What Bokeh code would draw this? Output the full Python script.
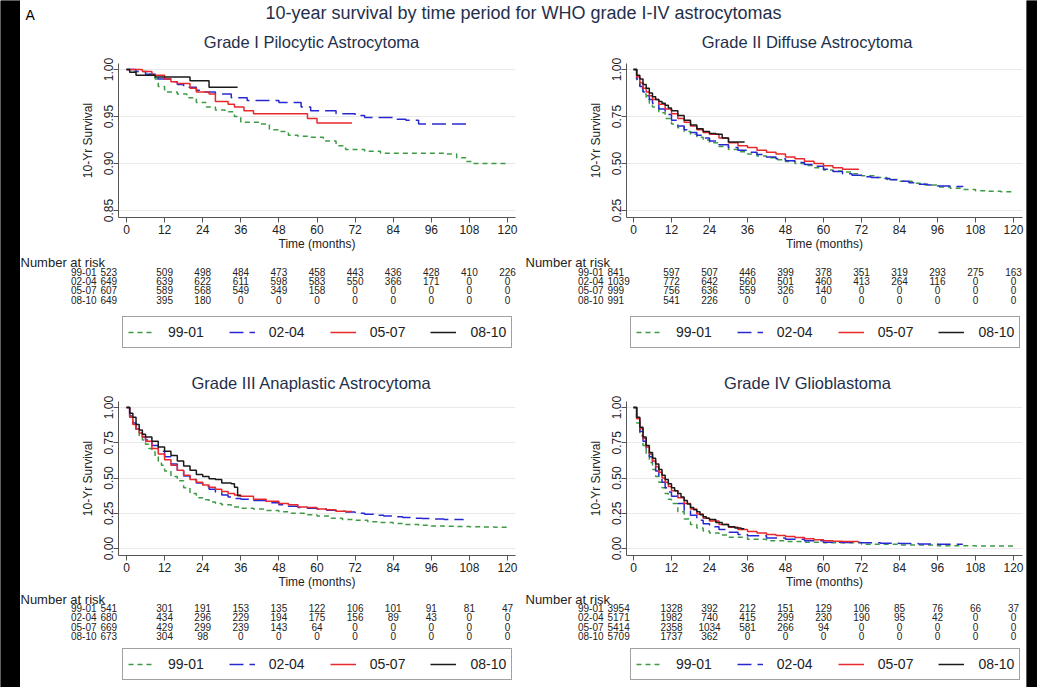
from bokeh.plotting import figure
from bokeh.models import Range1d, FixedTicker, Legend, LegendItem, PrintfTickFormatter
from bokeh.layouts import row, column
from bokeh.embed import file_html
from bokeh.resources import INLINE
from bokeh.core.properties import value

FONT = "Liberation Sans"

# ---------------- data ----------------
main_title = "10-year survival by time period for WHO grade I-IV astrocytomas"
panel_label = "A"
periods = ["99-01", "02-04", "05-07", "08-10"]
x_ticks = [0, 12, 24, 36, 48, 60, 72, 84, 96, 108, 120]
risk_times = [0, 12, 24, 36, 48, 60, 72, 84, 96, 108, 120]
x_label = "Time (months)"
y_label = "10-Yr Survival"
risk_title = "Number at risk"

grade_titles = ["Grade I Pilocytic Astrocytoma", "Grade II Diffuse Astrocytoma",
                "Grade III Anaplastic Astrocytoma", "Grade IV Glioblastoma"]
y_ticks_g1 = [0.85, 0.90, 0.95, 1.00]
y_ticks_g2 = [0.25, 0.50, 0.75, 1.00]
y_ticks_g3 = [0.00, 0.25, 0.50, 0.75, 1.00]
y_ticks_g4 = [0.00, 0.25, 0.50, 0.75, 1.00]

# Grade I
g1_t_9901 = [0, 2, 7, 9, 10, 12, 16, 19, 22, 25, 28, 31, 34, 36, 42, 45, 48, 51, 54, 58, 62, 66, 69, 75, 80, 100, 104, 107, 109, 120]
g1_s_9901 = [1.0, .998, .995, .99, .982, .976, .974, .970, .965, .960, .957, .955, .950, .944, .942, .936, .934, .930, .929, .928, .924, .919, .915, .913, .911, .910, .906, .902, .900, .900]
g1_t_0204 = [0, 3, 6, 10, 14, 16, 18, 22, 24, 28, 33, 38, 48, 55, 58, 66, 72, 75, 84, 88, 92, 107]
g1_s_0204 = [1.0, .998, .995, .99, .987, .984, .981, .978, .976, .974, .970, .967, .965, .960, .956, .953, .951, .949, .947, .946, .942, .942]
g1_t_0507 = [0, 5, 8, 12, 14, 16, 20, 22, 26, 28, 32, 34, 37, 40, 57, 60, 71]
g1_s_0507 = [1.0, .998, .994, .99, .987, .985, .980, .976, .974, .966, .963, .960, .956, .953, .948, .943, .943]
g1_t_0810 = [0, 1, 3, 9, 20, 26, 35]
g1_s_0810 = [1.0, .997, .994, .992, .988, .981, .981]

# Grade II
g2_t_9901 = [0, 1, 2, 3, 4, 5, 6, 8, 10, 12, 14, 16, 18, 20, 22, 24, 27, 30, 33, 36, 39, 42, 45, 48, 51, 54, 57, 60, 63, 66, 69, 72, 76, 80, 84, 88, 92, 96, 100, 104, 108, 112, 116, 120]
g2_s_9901 = [1.0, .94, .90, .87, .84, .82, .80, .77, .74, .71, .69, .67, .655, .64, .625, .61, .59, .575, .562, .55, .54, .53, .52, .51, .50, .49, .478, .465, .46, .455, .445, .435, .425, .415, .405, .395, .385, .375, .368, .362, .355, .352, .35, .345]
g2_t_0204 = [0, 1, 2, 3, 4, 5, 6, 8, 10, 12, 14, 16, 18, 20, 22, 24, 27, 30, 33, 36, 39, 42, 45, 48, 51, 54, 57, 60, 63, 66, 69, 72, 75, 78, 81, 84, 87, 90, 93, 96, 100, 104]
g2_s_0204 = [1.0, .95, .91, .88, .86, .84, .82, .79, .76, .73, .70, .68, .665, .65, .635, .62, .60, .585, .57, .56, .548, .535, .525, .515, .505, .495, .485, .47, .458, .445, .437, .43, .425, .42, .413, .405, .398, .39, .385, .38, .377, .375]
g2_t_0507 = [0, 1, 2, 3, 4, 5, 6, 8, 10, 12, 14, 16, 18, 20, 22, 24, 27, 30, 33, 36, 39, 42, 45, 48, 51, 54, 57, 60, 63, 66, 71]
g2_s_0507 = [1.0, .96, .93, .90, .88, .86, .84, .815, .79, .765, .74, .72, .70, .68, .665, .655, .635, .61, .595, .585, .57, .56, .55, .535, .525, .512, .50, .488, .478, .470, .466]
g2_t_0810 = [0, 1, 2, 3, 4, 5, 6, 7, 8, 9, 10, 11, 12, 14, 16, 18, 20, 22, 24, 26, 28, 30, 35]
g2_s_0810 = [1.0, .97, .95, .92, .90, .875, .855, .84, .83, .82, .81, .795, .78, .755, .73, .705, .685, .67, .66, .655, .635, .615, .613]

# Grade III
g3_t_9901 = [0, 1, 2, 3, 4, 5, 6, 7, 8, 9, 10, 11, 12, 14, 16, 18, 20, 22, 24, 26, 28, 30, 33, 36, 40, 44, 48, 52, 56, 60, 64, 68, 72, 76, 80, 84, 88, 92, 96, 100, 104, 108, 112, 116, 120]
g3_s_9901 = [1.0, .93, .88, .83, .80, .77, .74, .71, .685, .65, .62, .59, .55, .51, .48, .43, .39, .36, .345, .33, .32, .31, .295, .285, .28, .27, .26, .25, .24, .23, .215, .205, .20, .19, .185, .178, .17, .165, .16, .158, .156, .154, .152, .15, .15]
g3_t_0204 = [0, 1, 2, 3, 4, 5, 6, 8, 10, 12, 14, 16, 18, 20, 22, 24, 26, 28, 30, 32, 34, 36, 40, 44, 48, 51, 54, 57, 60, 63, 66, 69, 72, 75, 78, 81, 84, 87, 90, 93, 96, 100, 106]
g3_s_0204 = [1.0, .94, .89, .85, .82, .79, .77, .73, .69, .65, .60, .55, .515, .49, .465, .44, .42, .40, .38, .365, .355, .35, .34, .325, .31, .30, .29, .285, .28, .272, .265, .258, .25, .243, .235, .23, .225, .22, .215, .212, .21, .205, .20]
g3_t_0507 = [0, 1, 2, 3, 4, 5, 6, 8, 10, 12, 14, 16, 18, 20, 22, 24, 26, 28, 30, 32, 34, 36, 40, 44, 48, 51, 54, 57, 60, 63, 66, 69, 71]
g3_s_0507 = [1.0, .93, .88, .85, .82, .79, .76, .71, .67, .63, .59, .555, .52, .49, .47, .45, .435, .42, .405, .39, .38, .37, .35, .335, .32, .31, .295, .29, .28, .275, .265, .262, .26]
g3_t_0810 = [0, 1, 2, 3, 4, 5, 6, 8, 10, 12, 14, 16, 18, 20, 22, 24, 26, 28, 30, 33, 34, 35, 36]
g3_s_0810 = [1.0, .96, .93, .88, .84, .81, .79, .76, .72, .69, .66, .62, .585, .555, .525, .51, .495, .49, .465, .46, .435, .375, .375]

# Grade IV
g4_t_9901 = [0, 1, 2, 3, 4, 5, 6, 7, 8, 9, 10, 11, 12, 14, 16, 18, 20, 22, 24, 27, 30, 36, 42, 48, 54, 60, 72, 84, 96, 108, 120]
g4_s_9901 = [1.0, .89, .80, .73, .67, .61, .56, .51, .47, .43, .39, .35, .32, .26, .21, .17, .145, .125, .11, .095, .08, .065, .055, .05, .045, .04, .03, .025, .02, .018, .015]
g4_t_0204 = [0, 1, 2, 3, 4, 5, 6, 7, 8, 9, 10, 11, 12, 14, 16, 18, 20, 22, 24, 27, 30, 33, 36, 42, 48, 54, 60, 66, 72, 78, 84, 90, 96, 104]
g4_s_0204 = [1.0, .90, .83, .76, .70, .65, .60, .55, .51, .47, .43, .40, .37, .32, .27, .235, .20, .175, .155, .135, .115, .10, .09, .075, .065, .055, .045, .042, .04, .037, .035, .032, .03, .03]
g4_t_0507 = [0, 1, 2, 3, 4, 5, 6, 7, 8, 9, 10, 11, 12, 14, 16, 18, 20, 22, 24, 27, 30, 33, 36, 39, 42, 45, 48, 51, 54, 57, 60, 63, 66, 71]
g4_s_0507 = [1.0, .92, .85, .78, .72, .67, .62, .58, .54, .50, .47, .44, .41, .36, .32, .28, .245, .215, .195, .17, .15, .135, .12, .11, .10, .092, .085, .078, .07, .062, .055, .052, .05, .045]
g4_t_0810 = [0, 1, 2, 3, 4, 5, 6, 7, 8, 9, 10, 11, 12, 13, 14, 15, 16, 17, 18, 19, 20, 21, 22, 23, 24, 26, 28, 30, 32, 34, 35]
g4_s_0810 = [1.0, .93, .86, .79, .73, .68, .64, .60, .56, .52, .49, .46, .43, .41, .39, .365, .34, .315, .29, .275, .26, .24, .225, .215, .205, .185, .17, .155, .145, .14, .14]

# Numbers at risk
risk_g1_9901 = [523, 509, 498, 484, 473, 458, 443, 436, 428, 410, 226]
risk_g1_0204 = [649, 639, 622, 611, 598, 583, 550, 366, 171, 0, 0]
risk_g1_0507 = [607, 589, 568, 549, 349, 158, 0, 0, 0, 0, 0]
risk_g1_0810 = [649, 395, 180, 0, 0, 0, 0, 0, 0, 0, 0]
risk_g2_9901 = [841, 597, 507, 446, 399, 378, 351, 319, 293, 275, 163]
risk_g2_0204 = [1039, 772, 642, 560, 501, 460, 413, 264, 116, 0, 0]
risk_g2_0507 = [999, 756, 636, 559, 326, 140, 0, 0, 0, 0, 0]
risk_g2_0810 = [991, 541, 226, 0, 0, 0, 0, 0, 0, 0, 0]
risk_g3_9901 = [541, 301, 191, 153, 135, 122, 106, 101, 91, 81, 47]
risk_g3_0204 = [680, 434, 296, 229, 194, 175, 156, 89, 43, 0, 0]
risk_g3_0507 = [669, 429, 299, 239, 143, 64, 0, 0, 0, 0, 0]
risk_g3_0810 = [673, 304, 98, 0, 0, 0, 0, 0, 0, 0, 0]
risk_g4_9901 = [3954, 1328, 392, 212, 151, 129, 106, 85, 76, 66, 37]
risk_g4_0204 = [5171, 1982, 740, 415, 299, 230, 190, 95, 42, 0, 0]
risk_g4_0507 = [5414, 2358, 1034, 581, 266, 94, 0, 0, 0, 0, 0]
risk_g4_0810 = [5709, 1737, 362, 0, 0, 0, 0, 0, 0, 0, 0]

grades = [
    dict(title=grade_titles[0], yticks=y_ticks_g1,
         curves=[(g1_t_9901, g1_s_9901), (g1_t_0204, g1_s_0204), (g1_t_0507, g1_s_0507), (g1_t_0810, g1_s_0810)],
         risk=[risk_g1_9901, risk_g1_0204, risk_g1_0507, risk_g1_0810]),
    dict(title=grade_titles[1], yticks=y_ticks_g2,
         curves=[(g2_t_9901, g2_s_9901), (g2_t_0204, g2_s_0204), (g2_t_0507, g2_s_0507), (g2_t_0810, g2_s_0810)],
         risk=[risk_g2_9901, risk_g2_0204, risk_g2_0507, risk_g2_0810]),
    dict(title=grade_titles[2], yticks=y_ticks_g3,
         curves=[(g3_t_9901, g3_s_9901), (g3_t_0204, g3_s_0204), (g3_t_0507, g3_s_0507), (g3_t_0810, g3_s_0810)],
         risk=[risk_g3_9901, risk_g3_0204, risk_g3_0507, risk_g3_0810]),
    dict(title=grade_titles[3], yticks=y_ticks_g4,
         curves=[(g4_t_9901, g4_s_9901), (g4_t_0204, g4_s_0204), (g4_t_0507, g4_s_0507), (g4_t_0810, g4_s_0810)],
         risk=[risk_g4_9901, risk_g4_0204, risk_g4_0507, risk_g4_0810]),
]

# ---------------- styles / layout ----------------
line_colors = ["#3e9a45", "#2828d2", "#e8282c", "#1a1a1a"]
line_dashes = ["5 4", "14 6", "solid", "solid"]
TITLE_COLOR = "#1f2f4b"
AXIS_COLOR = "#555555"
TEXT_COLOR = "#222222"

PANEL_W = 503
CURVE_H = 198
TOP_B, BOT_B = 6, 38
FRAME_H = CURVE_H - TOP_B - BOT_B
SIDES = {
    "left": dict(ml=98, mr=8, off0=8, span_px=381, legend_x=102, legend_w=389, title_shift=-5, nar_px=0),
    "right": dict(ml=103, mr=4, off0=7, span_px=380, legend_x=107, legend_w=388, title_shift=-17, nar_px=2),
}
# vertical arrangement of each row of panels (pixels)
ROWS = {
    "top": dict(title_h=29, title_y=13, table_h=115, nar_y=7, row0=16, legend_top=63),
    "bottom": dict(title_h=25, title_y=12, table_h=94, nar_y=6, row0=14.5, legend_top=57),
}


def blank_fig(w, h, xr, yr, fill="white"):
    f = figure(width=w, height=h, x_range=xr, y_range=yr, output_backend="svg",
               toolbar_location=None, min_border=0, x_axis_location=None, y_axis_location=None,
               frame_align=False)
    f.outline_line_color = None
    f.xgrid.visible = False
    f.ygrid.visible = False
    f.background_fill_color = fill
    f.border_fill_color = fill
    return f


def make_panel(g, side, rw):
    sd = SIDES[side]
    rv = ROWS[rw]
    frame_w = PANEL_W - sd["ml"] - sd["mr"]
    scale = sd["span_px"] / 120.0
    xs = -sd["off0"] / scale
    xe = xs + frame_w / scale
    tx0 = xs - sd["ml"] / scale
    tx1 = xe + sd["mr"] / scale
    yt = g["yticks"]
    ppu = (FRAME_H - 13) / (max(yt) - min(yt))
    ys = min(yt) - 7 / ppu
    ye = max(yt) + 6 / ppu

    # ---- panel title ----
    th = rv["title_h"]
    tfig = blank_fig(PANEL_W, th, Range1d(tx0, tx1), Range1d(th, 0))
    tfig.text(x=[(xs + xe) / 2 + sd["title_shift"] / scale], y=[rv["title_y"]], text=[g["title"]],
              text_font=value(FONT), text_font_size="16.5px", text_color=TITLE_COLOR,
              text_align="center", text_baseline="middle")

    # ---- survival curves ----
    p = figure(width=PANEL_W, height=CURVE_H, x_range=Range1d(xs, xe), y_range=Range1d(ys, ye),
               output_backend="svg", toolbar_location=None, frame_align=False,
               min_border_left=sd["ml"], min_border_right=sd["mr"],
               min_border_top=TOP_B, min_border_bottom=BOT_B)
    p.outline_line_color = None
    p.background_fill_color = "white"
    p.border_fill_color = "white"
    p.xgrid.visible = False
    p.ygrid.grid_line_color = "#e9e9e9"
    p.ygrid.grid_line_width = 1
    p.ygrid.ticker = FixedTicker(ticks=yt)

    p.xaxis.ticker = FixedTicker(ticks=x_ticks)
    p.yaxis.ticker = FixedTicker(ticks=yt)
    p.yaxis.formatter = PrintfTickFormatter(format="%.2f")
    for ax in (p.xaxis[0], p.yaxis[0]):
        ax.axis_line_color = AXIS_COLOR
        ax.major_tick_line_color = AXIS_COLOR
        ax.minor_tick_line_color = None
        ax.major_tick_out = 5
        ax.major_tick_in = 0
        ax.major_label_text_font = FONT
        ax.major_label_text_font_size = "12px"
        ax.major_label_text_color = TEXT_COLOR
        ax.axis_label_text_font = FONT
        ax.axis_label_text_font_size = "12px"
        ax.axis_label_text_font_style = "normal"
        ax.axis_label_text_color = TEXT_COLOR
    p.xaxis.axis_label = x_label
    p.xaxis.major_label_standoff = 2
    p.xaxis.axis_label_standoff = 0
    p.yaxis.axis_label = y_label
    p.yaxis.major_label_orientation = "vertical"
    p.yaxis.major_label_standoff = 1
    p.yaxis.axis_label_standoff = 6

    for (t, s), c, d in zip(g["curves"], line_colors, line_dashes):
        p.step(x=t, y=s, mode="after", line_color=c, line_width=1.5, line_dash=d)

    # ---- risk table + legend ----
    table_h = rv["table_h"]
    tf = blank_fig(PANEL_W, table_h, Range1d(tx0, tx1), Range1d(table_h, 0))
    row_y = [rv["row0"] + 9.4 * i for i in range(4)]
    tf.text(x=[tx0 + sd["nar_px"] / scale], y=[rv["nar_y"]], text=[risk_title], text_font=value(FONT),
            text_font_size="13px", text_color=TEXT_COLOR, text_align="left", text_baseline="middle")
    tf.text(x=[risk_times[0]] * 4, y=row_y, text=periods, text_font=value(FONT), text_font_size="10px",
            text_color=TEXT_COLOR, text_align="right", text_baseline="middle", x_offset=-30)
    tf.text(x=[risk_times[0]] * 4, y=row_y, text=[str(r[0]) for r in g["risk"]], text_font=value(FONT),
            text_font_size="10px", text_color=TEXT_COLOR, text_align="left", text_baseline="middle", x_offset=-26)
    xx, yy, tt = [], [], []
    for r, yv in zip(g["risk"], row_y):
        for tm, n in zip(risk_times[1:], r[1:]):
            xx.append(tm); yy.append(yv); tt.append(str(n))
    tf.text(x=xx, y=yy, text=tt, text_font=value(FONT), text_font_size="10px", text_color=TEXT_COLOR,
            text_align="center", text_baseline="middle")

    items = []
    for lab, c, d in zip(periods, line_colors, line_dashes):
        # legend-only renderer placed outside the visible range
        r = tf.line(x=[tx0 - 50, tx0 - 40], y=[-50, -50], line_color=c, line_width=1.5, line_dash=d)
        items.append(LegendItem(label=lab, renderers=[r]))
    pad, gw, ls = 5, 26, 14
    lw = (4 * 556 + 333) / 1000.0 * 14
    spacing = int(round((sd["legend_w"] - 2 * pad - 4 * (gw + ls + lw)) / 3))
    leg = Legend(items=items, orientation="horizontal",
                 location=(sd["legend_x"], table_h - rv["legend_top"] - 30),
                 padding=pad, spacing=spacing, glyph_width=gw, glyph_height=20, label_standoff=ls,
                 label_height=20, label_text_font=FONT, label_text_font_size="14px",
                 label_text_color=TEXT_COLOR, border_line_color="#444444", border_line_width=1,
                 background_fill_color="white", background_fill_alpha=1.0, margin=0)
    tf.add_layout(leg)
    return column(tfig, p, tf, spacing=0)


CONTENT_W = 1006
HEADER_H = 24
header = blank_fig(CONTENT_W, HEADER_H, Range1d(0, CONTENT_W), Range1d(HEADER_H, 0))
header.text(x=[5], y=[10], text=[panel_label], text_font=value(FONT), text_font_size="14px",
            text_color="black", text_align="left", text_baseline="middle")
header.text(x=[503], y=[8], text=[main_title], text_font=value(FONT), text_font_size="18px",
            text_color=TITLE_COLOR, text_align="center", text_baseline="middle")

top = row(make_panel(grades[0], "left", "top"), make_panel(grades[1], "right", "top"), spacing=0)
bottom = row(make_panel(grades[2], "left", "bottom"), make_panel(grades[3], "right", "bottom"), spacing=0)

TOTAL_H = 4 + HEADER_H + sum(v["title_h"] + CURVE_H + v["table_h"] for v in ROWS.values())


def black_block(w, h):
    # image border (black frame around the scanned figure)
    f = blank_fig(w, h, Range1d(0, 1), Range1d(0, 1), fill="#000000")
    f.quad(left=[0], right=[1], bottom=[0], top=[1], fill_color="#000000", line_color=None)
    return f


content = column(black_block(CONTENT_W, 4), header, top, bottom, spacing=0)
page = row(black_block(20, TOTAL_H), content, black_block(11, TOTAL_H), spacing=0)

open("out.html", "w").write(file_html(page, INLINE))
